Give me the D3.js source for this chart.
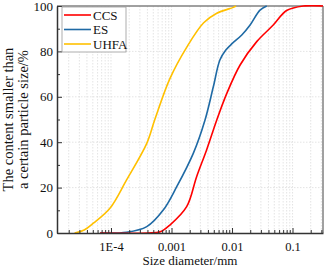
<!DOCTYPE html>
<html><head><meta charset="utf-8">
<script src="https://cdn.jsdelivr.net/npm/d3@7"></script>
<style>body{margin:0;background:#fff}svg{display:block}</style>
</head><body><svg id="c" width="325" height="268"></svg>
<script>
const ccsSize = [0.000066, 0.0004, 0.00065, 0.00094, 0.00178, 0.0026, 0.0038, 0.0056, 0.0082, 0.0136, 0.0256, 0.048, 0.080, 0.151, 0.319];
const ccsVal  = [0, 0, 0.5, 3.5, 11.6, 24.8, 36.6, 49.8, 61.5, 74, 84.3, 91.6, 98, 100, 100];
const esSize  = [0.000066, 0.00018, 0.00039, 0.00073, 0.00122, 0.00229, 0.00358, 0.00491, 0.0063, 0.0079, 0.0101, 0.0145, 0.0199, 0.029, 0.0375];
const esVal   = [0, 0.3, 2.8, 10.1, 20.4, 35.1, 49.8, 64.4, 76.2, 80.6, 83.5, 87.2, 91.6, 98.2, 100];
const uhfaSize= [0.000025, 0.000036, 0.000051, 0.000096, 0.00018, 0.00039, 0.00053, 0.00094, 0.0018, 0.0034, 0.0056, 0.0105, 0.0116];
const uhfaVal = [0, 1.3, 4.3, 10.9, 23.3, 39.5, 50, 68, 82, 92.6, 96.8, 99.4, 100];
const seriesNames = ["CCS", "ES", "UHFA"];
const xTicks = [1e-4, 1e-3, 1e-2, 1e-1];
const xTickLabels = ["1E-4", "0.001", "0.01", "0.1"];
const yTicks = [0, 20, 40, 60, 80, 100];

const colors = ["#ff0000", "#1f6aa5", "#ffc000"];
const series = [
  {name: seriesNames[0], pts: ccsSize.map((s,i)=>[s, ccsVal[i]]), color: colors[0]},
  {name: seriesNames[1], pts: esSize.map((s,i)=>[s, esVal[i]]), color: colors[1]},
  {name: seriesNames[2], pts: uhfaSize.map((s,i)=>[s, uhfaVal[i]]), color: colors[2]}
];

const L = 57, R = 323, T = 6, B = 233;
const x = d3.scaleLog().domain([1.28e-5, 0.319]).range([L, R]);
const y = d3.scaleLinear().domain([0, 100]).range([B, T]);
const svg = d3.select("#c");
const font = "'Liberation Serif','Times New Roman',serif";

const minorX = [];
for (let e = -5; e <= -1; e++) for (let m = 1; m <= 9; m++) {
  const v = m * Math.pow(10, e);
  if (v >= x.domain()[0] && v <= x.domain()[1]) minorX.push(v);
}
const g = svg.append("g");
g.selectAll("line.gx").data(minorX).join("line")
  .attr("x1", d=>x(d)).attr("x2", d=>x(d)).attr("y1", T).attr("y2", B)
  .attr("stroke", "#d8d8d8").attr("stroke-width", 0.7).attr("stroke-dasharray", "1.5,1.5");
g.selectAll("line.gy").data(yTicks.slice(1,-1)).join("line")
  .attr("x1", L).attr("x2", R).attr("y1", d=>y(d)).attr("y2", d=>y(d))
  .attr("stroke", "#d8d8d8").attr("stroke-width", 0.7).attr("stroke-dasharray", "1.5,1.5");

svg.append("line").attr("x1", L).attr("x2", R).attr("y1", T).attr("y2", T).attr("stroke", "#808080").attr("stroke-width", 1.5);
svg.append("line").attr("x1", R).attr("x2", R).attr("y1", T).attr("y2", B).attr("stroke", "#808080").attr("stroke-width", 1.5);

const clip = svg.append("clipPath").attr("id", "pc").append("rect")
  .attr("x", L).attr("y", T - 1).attr("width", R - L).attr("height", B - T + 1);
const line = d3.line().x(d=>x(d[0])).y(d=>y(d[1])).curve(d3.curveCatmullRom.alpha(0.5));
[series[1], series[2], series[0]].forEach(s => {
  svg.append("path").attr("d", line(s.pts)).attr("fill", "none").attr("clip-path", "url(#pc)")
    .attr("stroke", s.color).attr("stroke-width", 1.6);
});

const xAxis = d3.axisBottom(x).tickValues(xTicks).tickFormat((d,i)=>xTickLabels[i]).tickSizeInner(-5).tickSizeOuter(0).tickPadding(9);
const xg = svg.append("g").attr("transform", `translate(0,${B})`).call(xAxis);
const xMinor = d3.axisBottom(x).tickValues(minorX.filter(v=>!xTicks.includes(v))).tickFormat("").tickSizeInner(-3).tickSizeOuter(0);
svg.append("g").attr("transform", `translate(0,${B})`).call(xMinor).select(".domain").remove();
xg.select(".domain").attr("stroke", "#333").attr("stroke-width", 1.5);
xg.selectAll("text").attr("font-family", font).attr("font-size", 12.5).attr("fill", "#111");

const yAxis = d3.axisLeft(y).tickValues(yTicks).tickSizeInner(-5).tickSizeOuter(0).tickPadding(4);
const yg = svg.append("g").attr("transform", `translate(${L},0)`).call(yAxis);
const yMinor = d3.axisLeft(y).tickValues([10,30,50,70,90]).tickFormat("").tickSizeInner(-3).tickSizeOuter(0);
svg.append("g").attr("transform", `translate(${L},0)`).call(yMinor).select(".domain").remove();
yg.select(".domain").attr("stroke", "#333").attr("stroke-width", 1.5);
yg.selectAll("text").attr("font-family", font).attr("font-size", 13).attr("fill", "#111");
svg.selectAll(".tick line").attr("stroke", "#333");

svg.append("text").attr("x", 190).attr("y", 265).attr("text-anchor", "middle")
  .attr("font-family", font).attr("font-size", 13).attr("fill", "#111").text("Size diameter/mm");
const yt = svg.append("text").attr("transform", `translate(0,${(T+B)/2}) rotate(-90)`)
  .attr("text-anchor", "middle").attr("font-family", font).attr("font-size", 14.5).attr("fill", "#111");
yt.append("tspan").attr("x", 0).attr("y", 13).text("The content smaller than");
yt.append("tspan").attr("x", 0).attr("y", 28).text("a certain particle size/%");

const lg = svg.append("g");
lg.append("rect").attr("x", 62).attr("y", 7).attr("width", 64).attr("height", 45)
  .attr("fill", "#fff").attr("stroke", "#999").attr("stroke-width", 0.8);
series.forEach((s, i) => {
  const yy = 15 + i * 14.5;
  lg.append("line").attr("x1", 64).attr("x2", 91).attr("y1", yy).attr("y2", yy)
    .attr("stroke", s.color).attr("stroke-width", 1.6);
  lg.append("text").attr("x", 93).attr("y", yy + 4.5).attr("font-family", font)
    .attr("font-size", 13).attr("fill", "#111").text(s.name);
});
</script></body></html>
